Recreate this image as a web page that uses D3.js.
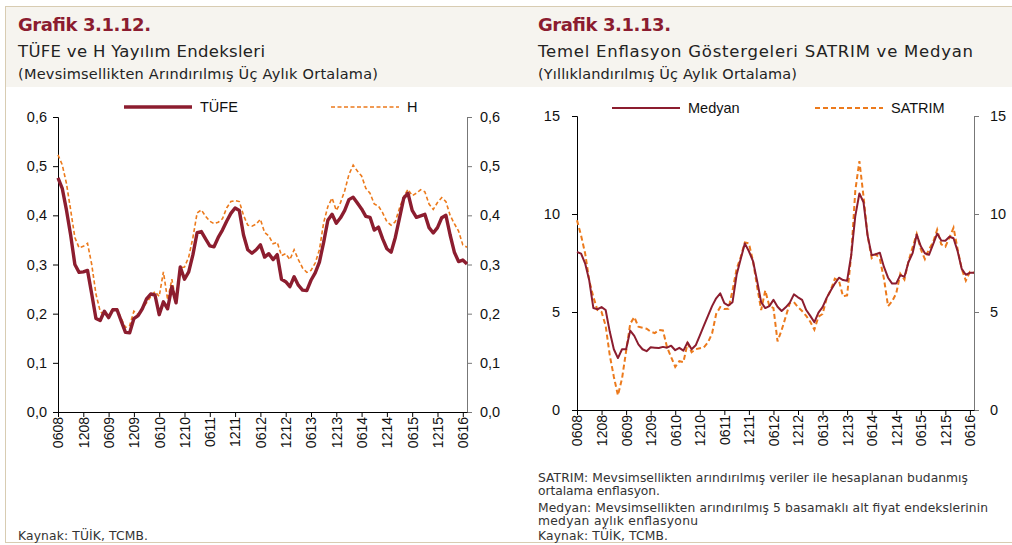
<!DOCTYPE html>
<html>
<head>
<meta charset="utf-8">
<script src="https://cdn.jsdelivr.net/npm/d3@7"></script>
<style>
  body { margin: 0; background: #fff; }
  svg { display: block; }
</style>
</head>
<body>
<svg id="chart" width="1012" height="545"></svg>
<script>
// aylik veriler, 0608 .. 0716 (98 ay)
const tickLabels = ["0608","1208","0609","1209","0610","1210","0611","1211","0612","1212","0613","1213","0614","1214","0615","1215","0616"];

const tufe = [0.476,0.455,0.411,0.36,0.30,0.284,0.285,0.288,0.24,0.19,0.186,0.205,0.192,0.208,0.208,0.185,0.162,0.161,0.19,0.196,
  0.21,0.23,0.24,0.238,0.198,0.224,0.21,0.255,0.222,0.295,0.27,0.285,0.32,0.365,0.367,0.352,0.338,0.336,0.355,0.37,
  0.388,0.404,0.415,0.41,0.36,0.33,0.323,0.33,0.34,0.315,0.322,0.31,0.32,0.27,0.265,0.255,0.275,0.258,0.248,0.247,
  0.268,0.283,0.305,0.345,0.39,0.402,0.384,0.395,0.41,0.432,0.437,0.425,0.413,0.398,0.396,0.37,0.376,0.352,0.332,0.325,
  0.355,0.395,0.435,0.445,0.41,0.396,0.399,0.402,0.375,0.364,0.375,0.395,0.40,0.36,0.325,0.306,0.309,0.301];

const hEndeks = [0.523,0.503,0.465,0.411,0.355,0.334,0.337,0.343,0.30,0.24,0.205,0.196,0.197,0.21,0.21,0.19,0.172,0.176,0.205,0.198,
  0.21,0.222,0.235,0.245,0.235,0.285,0.228,0.27,0.225,0.293,0.295,0.315,0.355,0.405,0.411,0.398,0.388,0.383,0.386,0.393,
  0.415,0.428,0.43,0.428,0.40,0.38,0.378,0.382,0.392,0.365,0.358,0.342,0.345,0.318,0.322,0.31,0.33,0.31,0.293,0.284,
  0.288,0.303,0.33,0.385,0.418,0.435,0.41,0.426,0.45,0.483,0.502,0.49,0.48,0.455,0.445,0.423,0.419,0.405,0.387,0.38,
  0.387,0.415,0.438,0.453,0.44,0.445,0.452,0.448,0.423,0.412,0.426,0.436,0.428,0.40,0.383,0.368,0.34,0.335];

const medyan = [8.06,7.98,7.47,6.6,5.2,5.14,5.25,5.1,4.0,3.1,2.65,3.1,3.1,4.05,3.78,3.35,3.1,3.0,3.2,3.18,
  3.16,3.22,3.18,3.28,3.05,3.17,3.03,3.45,3.1,3.3,3.8,4.3,4.8,5.3,5.7,5.95,5.45,5.33,5.5,6.9,
  7.7,8.5,8.1,7.6,6.6,5.5,5.2,5.3,5.62,5.27,5.05,5.24,5.48,5.9,5.75,5.62,5.1,4.8,4.48,4.97,
  5.25,5.72,6.1,6.45,6.75,6.63,6.6,7.9,9.9,11.05,10.6,8.9,7.9,7.95,8.02,7.3,6.75,6.45,6.46,6.88,
  6.8,7.55,8.0,8.95,8.35,8.0,7.92,8.45,9.0,8.65,8.64,8.84,8.76,8.1,7.2,6.9,7.0,7.0];

const satrim = [9.68,8.9,7.98,6.6,5.76,5.1,5.0,4.3,2.8,1.7,0.75,1.6,3.0,4.4,4.74,4.25,4.2,4.15,4.0,3.92,
  4.08,4.06,3.2,2.7,2.2,2.49,2.44,3.4,2.95,3.1,3.15,3.2,3.45,3.9,4.9,5.25,5.15,5.16,6.1,7.2,
  7.8,8.55,8.5,7.6,6.3,5.1,6.1,5.3,5.2,3.5,4.08,4.76,5.45,5.5,5.25,5.05,4.8,4.5,4.1,4.76,
  4.9,5.7,6.12,6.7,6.6,5.8,5.85,7.9,11.2,12.7,10.9,8.9,7.75,7.95,7.7,6.7,5.3,5.55,5.95,6.95,
  6.65,7.6,8.3,8.98,8.2,7.7,8.2,8.55,9.2,8.45,8.33,8.8,9.3,8.2,7.2,6.6,7.05,7.0];

const leftTicks = [0, 0.1, 0.2, 0.3, 0.4, 0.5, 0.6];
const rightTicks = [0, 5, 10, 15];

const koyu = "#8c1d2f", turuncu = "#ec7a1c";
const yazi = "'DejaVu Sans', sans-serif", eksen = "'Liberation Sans', Arial, sans-serif";

const svg = d3.select("#chart");

// cerceve ve baslik zemini
svg.append("rect").attr("x", 5).attr("y", 6).attr("width", 1007).attr("height", 81).attr("fill", "#f6f4ef");
svg.append("line").attr("x1", 5).attr("x2", 1012).attr("y1", 6.5).attr("y2", 6.5).attr("stroke", "#d8ccb2");
svg.append("line").attr("x1", 5.5).attr("x2", 5.5).attr("y1", 6).attr("y2", 543).attr("stroke", "#d8ccb2");
svg.append("line").attr("x1", 5).attr("x2", 1012).attr("y1", 542.5).attr("y2", 542.5).attr("stroke", "#d8ccb2");

// basliklar: [x, y, metin, boyut, kalin, renk, genislik]
const basliklar = [
    [18, 31, "Grafik 3.1.12.", 18, true, "#8b1c30", 133],
    [18, 57, "TÜFE ve H Yayılım Endeksleri", 16.5, false, "#222", 247],
    [18, 79, "(Mevsimsellikten Arındırılmış Üç Aylık Ortalama)", 14.5, false, "#222", 360],
    [538, 31, "Grafik 3.1.13.", 18, true, "#8b1c30", 133],
    [538, 57, "Temel Enflasyon Göstergeleri SATRIM ve Medyan", 16.5, false, "#222", 435],
    [538, 79, "(Yıllıklandırılmış Üç Aylık Ortalama)", 14.5, false, "#222", 259]
];
svg.append("g").selectAll("text").data(basliklar).enter().append("text")
    .attr("x", d => d[0]).attr("y", d => d[1]).text(d => d[2])
    .attr("font-family", yazi).attr("font-size", d => d[3])
    .attr("font-weight", d => d[4] ? "bold" : "normal").attr("fill", d => d[5])
    .attr("textLength", d => d[6]).attr("lengthAdjust", "spacing");

function panel(cfg) {
    const x = d3.scaleLinear().domain([0, 97]).range([cfg.x0, cfg.x1]);
    const y = d3.scaleLinear().domain([0, cfg.ymax]).range([cfg.y0, cfg.y1]);
    const g = svg.append("g");

    // y eksenleri
    const sol = g.append("g").attr("transform", "translate(" + cfg.x0 + ",0)")
        .call(d3.axisLeft(y).tickValues(cfg.ticks).tickSize(5).tickPadding(cfg.padL).tickFormat(cfg.fmt));
    const sag = g.append("g").attr("transform", "translate(" + cfg.x1 + ",0)")
        .call(d3.axisRight(y).tickValues(cfg.ticks).tickSize(5).tickPadding(cfg.padR).tickFormat(cfg.fmt));
    [sol, sag].forEach(a => {
        a.select(".domain").attr("stroke", "#000");
        a.selectAll("text").attr("font-family", eksen).attr("font-size", 14.5).attr("fill", "#111");
    });
    sag.selectAll("line, .domain").attr("stroke", "#777");

    // x ekseni
    const xa = g.append("g").attr("transform", "translate(0," + cfg.y0 + ")")
        .call(d3.axisBottom(x).tickValues(d3.range(0, 97, 6)).tickSize(5).tickSizeOuter(0)
            .tickFormat((d, i) => tickLabels[i]));
    xa.select(".domain").attr("stroke", "#000");
    xa.selectAll("text")
        .attr("font-family", eksen).attr("font-size", 14).attr("fill", "#111")
        .attr("transform", "rotate(-90)")
        .attr("x", -5).attr("y", 0).attr("dy", "0.35em")
        .style("text-anchor", "end");

    const line = d3.line().x((d, i) => x(i)).y(d => y(d));

    g.append("path").datum(cfg.s2).attr("d", line).attr("fill", "none")
        .attr("stroke", turuncu).attr("stroke-width", cfg.w2).attr("stroke-dasharray", cfg.dash);
    g.append("path").datum(cfg.s1).attr("d", line).attr("fill", "none")
        .attr("stroke", koyu).attr("stroke-width", cfg.w1).attr("stroke-linejoin", "round");

    // legend
    const lg = svg.append("g").attr("font-family", eksen).attr("font-size", 14.5).attr("fill", "#111");
    lg.append("line").attr("x1", cfg.leg[0]).attr("x2", cfg.leg[0] + 68).attr("y1", cfg.ly).attr("y2", cfg.ly)
        .attr("stroke", koyu).attr("stroke-width", cfg.w1);
    lg.append("text").attr("x", cfg.leg[0] + 76).attr("y", cfg.ly + 5).text(cfg.names[0]);
    lg.append("line").attr("x1", cfg.leg[1]).attr("x2", cfg.leg[1] + 68).attr("y1", cfg.ly).attr("y2", cfg.ly)
        .attr("stroke", turuncu).attr("stroke-width", cfg.w2).attr("stroke-dasharray", cfg.dash);
    lg.append("text").attr("x", cfg.leg[1] + 76).attr("y", cfg.ly + 5).text(cfg.names[1]);
}

panel({
    x0: 58, x1: 467, y0: 412, y1: 117, ymax: 0.6, ticks: leftTicks,
    fmt: d => d3.format(".1f")(d).replace(".", ","), padL: 6, padR: 8,
    s1: tufe, s2: hEndeks, w1: 3.4, w2: 1.6, dash: "4,2.5",
    leg: [124, 331], ly: 107, names: ["TÜFE", "H"]
});

panel({
    x0: 577, x1: 974, y0: 410, y1: 116, ymax: 15, ticks: rightTicks,
    fmt: d => d, padL: 12, padR: 11,
    s1: medyan, s2: satrim, w1: 2, w2: 2, dash: "5,3",
    leg: [612, 815], ly: 108, names: ["Medyan", "SATRIM"]
});

// dipnotlar
const notlar = [
    [18, 540, "Kaynak: TÜİK, TCMB.", 130],
    [538, 482, "SATRIM: Mevsimsellikten arındırılmış veriler ile hesaplanan budanmış", 430],
    [538, 495, "ortalama enflasyon.", 122],
    [538, 512, "Medyan: Mevsimsellikten arındırılmış 5 basamaklı alt fiyat endekslerinin", 450],
    [538, 525, "medyan aylık enflasyonu", 160],
    [538, 540, "Kaynak: TÜİK, TCMB.", 130]
];
svg.append("g").selectAll("text").data(notlar).enter().append("text")
    .attr("x", d => d[0]).attr("y", d => d[1]).text(d => d[2])
    .attr("font-family", yazi).attr("font-size", 12.3).attr("fill", "#333")
    .attr("textLength", d => d[3]).attr("lengthAdjust", "spacing");
</script>
</body>
</html>
